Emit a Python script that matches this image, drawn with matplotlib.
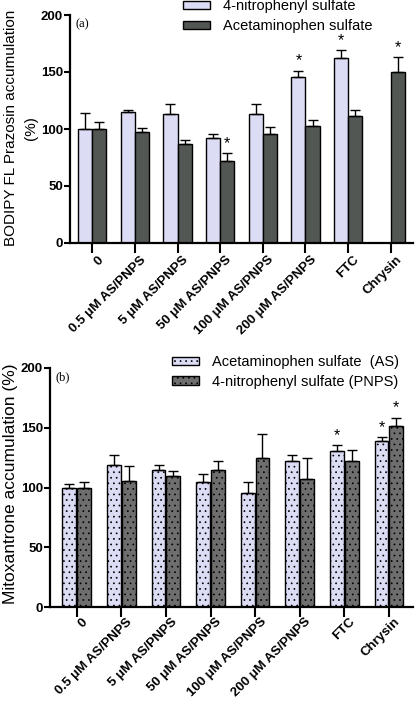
import numpy as np
import matplotlib
matplotlib.use("Agg")
import matplotlib.pyplot as plt
import matplotlib.transforms as mtransforms

# categories shared by both panels
groups = ["0", "0.5 μM AS/PNPS", "5 μM AS/PNPS", "50 μM AS/PNPS",
          "100 μM AS/PNPS", "200 μM AS/PNPS", "FTC", "Chrysin"]

# panel (a): BODIPY FL prazosin accumulation (%)
a_pnps = [100, 114.5, 113, 92, 113.5, 146, 162, np.nan]
a_pnps_err = [14, 2, 8.5, 4, 8, 5, 7, 0]
a_as = [100, 97.5, 87, 72, 96, 103, 111, 150]
a_as_err = [6, 3, 3, 7, 6, 4.5, 5.5, 13]
a_pnps_star = [False, False, False, False, False, True, True, False]
a_as_star = [False, False, False, True, False, False, False, True]

# panel (b): mitoxantrone accumulation (%)
b_as = [100, 118.5, 114.5, 104.5, 95.5, 122.5, 130.5, 138.5]
b_as_err = [3, 8.5, 4, 7, 9, 4.5, 5, 3.5]
b_pnps = [100, 105.5, 109.5, 114.5, 124.5, 107, 122, 151.5]
b_pnps_err = [5, 12.5, 4.5, 7.5, 20, 18, 9.5, 7]
b_as_star = [False, False, False, False, False, False, True, True]
b_pnps_star = [False, False, False, False, False, False, False, True]

plt.rcParams['font.family'] = ['Liberation Sans', 'DejaVu Sans']
plt.rcParams['hatch.linewidth'] = 0.5
plt.rcParams['hatch.color'] = '#333333'

LIGHT = '#dcdcf5'
DARK_A = '#535753'
DARK_B = '#6e6e6e'

W, H = 416, 705
fig = plt.figure(figsize=(W / 100, H / 100), dpi=100)


def px_axes(left, top, right, bottom):
    return fig.add_axes([left / W, 1 - bottom / H, (right - left) / W, (bottom - top) / H])


def style_axis(ax, xlim, drop):
    ax.set_xlim(*xlim)
    ax.set_ylim(0, 200)
    ax.set_yticks([0, 50, 100, 150, 200])
    for s in ['top', 'right']:
        ax.spines[s].set_visible(False)
    for s in ['left', 'bottom']:
        ax.spines[s].set_linewidth(1.6)
    ax.tick_params(axis='y', length=4, width=1.5, pad=1, labelsize=9.5)
    ax.tick_params(axis='x', length=7, width=1.5, labelbottom=False)
    ax.set_xticks(range(len(groups)))
    for lab in ax.get_yticklabels():
        lab.set_fontweight('bold')
    # rotated category labels, ending just right of each tick
    base = mtransforms.blended_transform_factory(ax.transData, ax.transAxes)
    shift = mtransforms.ScaledTranslation(5 / 100, -drop / 100, fig.dpi_scale_trans)
    for i, g in enumerate(groups):
        ax.text(i, 0, g, transform=base + shift, rotation=45, rotation_mode='anchor',
                ha='right', va='top', fontsize=9.5, fontweight='bold')


def bars(ax, x, vals, errs, stars, color, label, hatch=None, width=0.33):
    vals = np.array(vals, dtype=float)
    errs = np.array(errs, dtype=float)
    ax.bar(x, vals, width, color=color, edgecolor='black', linewidth=1.0,
           hatch=hatch, label=label, zorder=2)
    ok = ~np.isnan(vals)
    ax.errorbar(x[ok], vals[ok], yerr=[np.zeros(ok.sum()), errs[ok]], fmt='none',
                ecolor='black', elinewidth=1.0, capsize=3.5, capthick=1.0, zorder=3)
    for xi, v, e, s in zip(x, vals, errs, stars):
        if s:
            ax.text(xi, v + e + 2, '*', ha='center', va='bottom', fontsize=11.5)


def legend(ax, x, y):
    ax.legend(loc='upper left', bbox_to_anchor=(x / W, 1 - y / H),
              bbox_transform=fig.transFigure, frameon=False, fontsize=10.5,
              borderpad=0, borderaxespad=0, handlelength=1.85, handleheight=0.5,
              handletextpad=0.9, labelspacing=0.4)


idx = np.arange(len(groups))

# ---- panel (a)
axa = px_axes(70, 15, 413, 243)
bars(axa, idx - 0.165, a_pnps, a_pnps_err, a_pnps_star, LIGHT, '4-nitrophenyl sulfate')
bars(axa, idx + 0.165, a_as, a_as_err, a_as_star, DARK_A, 'Acetaminophen sulfate')
style_axis(axa, (-0.52, 7.52), 11)
axa.text(0.015, 0.985, '(a)', transform=axa.transAxes, ha='left', va='top',
         family='Liberation Serif', fontsize=9)
fig.text(11 / W, 1 - 128 / H, 'BODIPY FL Prazosin accumulation', rotation=90,
         ha='center', va='center', fontsize=11)
fig.text(31 / W, 1 - 128 / H, '(%)', rotation=90,
         ha='center', va='center', fontsize=11)
legend(axa, 183, -1)

# ---- panel (b)
axb = px_axes(50, 368, 413, 607)
bars(axb, idx - 0.165, b_as, b_as_err, b_as_star, LIGHT, 'Acetaminophen sulfate  (AS)',
     hatch='...', width=0.31)
bars(axb, idx + 0.165, b_pnps, b_pnps_err, b_pnps_star, DARK_B, '4-nitrophenyl sulfate (PNPS)',
     hatch='...', width=0.31)
style_axis(axb, (-0.6, 7.54), 9)
axb.text(0.015, 0.985, '(b)', transform=axb.transAxes, ha='left', va='top',
         family='Liberation Serif', fontsize=9)
fig.text(11 / W, 1 - 484 / H, 'Mitoxantrone accumulation (%)', rotation=90,
         ha='center', va='center', fontsize=12.5)
legend(axb, 172, 355)

fig.savefig('out.png', dpi=100)
